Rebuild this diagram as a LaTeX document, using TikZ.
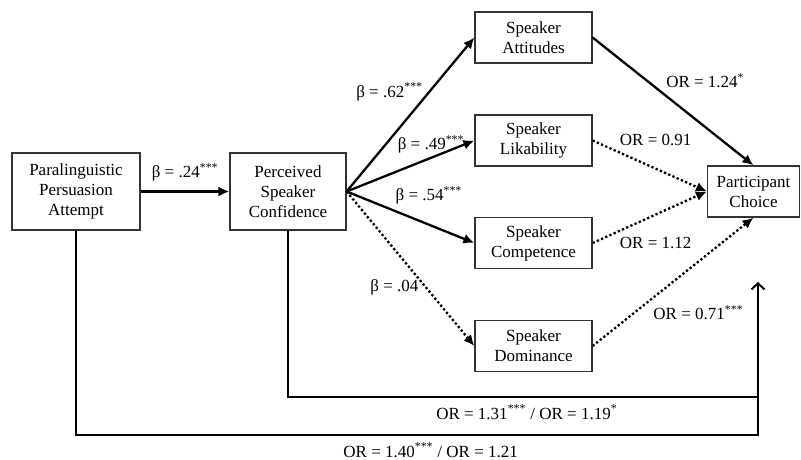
\documentclass[tikz,border=0pt]{standalone}
\usepackage{fontspec}
\setmainfont{Liberation Serif}
\usetikzlibrary{arrows.meta}

\begin{document}
\begin{tikzpicture}[x=1pt,y=-1pt,
	every node/.style={font=\fontsize{17}{20}\selectfont},
	box/.style={draw=black!80,line width=1.2pt,align=center,inner sep=0pt,minimum width=117pt,minimum height=51pt},
	solidarrow/.style={-{Latex[length=11pt,width=10pt]},line width=2.3pt},
	dotarrow/.style={-{Latex[length=11pt,width=10pt]},line width=2.3pt,dash pattern=on 2.3pt off 2.3pt},
	pathline/.style={line width=1.5pt}]
	\useasboundingbox (0,0) rectangle (801,460);

		\node[box,minimum width=128pt,minimum height=77pt] (PARA) at (76,191.5) {Paralinguistic\\Persuasion\\Attempt};
		\node[box,minimum width=116pt,minimum height=77pt] (PERC) at (288,191.5) {Perceived\\Speaker\\Confidence};
		\node[box] (ATT) at (533.5,37.5) {Speaker\\Attitudes};
		\node[box] (LIK) at (533.5,140.5) {Speaker\\Likability};
		\node[box] (COMP) at (533.5,243) {Speaker\\Competence};
		\node[box] (DOM) at (533.5,346) {Speaker\\Dominance};
		\node[box,minimum width=92pt] (CHOICE) at (753.5,191.5) {Participant\\Choice};

		\coordinate (LOW) at (758,435);
		\coordinate (HIGH) at (758,397);
		\coordinate (TIP) at (758,282);

		\draw [solidarrow] (PARA.east) -- node[above=6pt] (B24) {β = .24\textsuperscript{***}} (PERC.west);

		\draw [solidarrow] (PERC.east) -- node[pos=0.646,left=2pt] (B62) {β = .62\textsuperscript{***}} (ATT.west);
		\draw [solidarrow] (PERC.east) -- node[pos=0.66,above=0pt] (B49) {β = .49\textsuperscript{***}} (LIK.west);
		\draw [solidarrow] (PERC.east) -- node[pos=0.643,above=16pt] (B54) {β = .54\textsuperscript{***}} (COMP.west);
		\draw [dotarrow] (PERC.east) -- node[pos=0.62,left=3pt] (B04) {β = .04} (DOM.west);

		\draw [solidarrow] (ATT.east) -- node[pos=0.43,above right=0pt] (OR124) {OR = 1.24\textsuperscript{*}} (CHOICE.north);
		\draw [dotarrow] (LIK.east) -- node[pos=0.2,above right=0pt] (OR091) {OR = 0.91} (CHOICE.west);
		\draw [dotarrow] (COMP.east) -- node[pos=0.2,below right=0pt] (OR112) {OR = 1.12} (CHOICE.west);
		\draw [dotarrow] (DOM.east) -- node[pos=0.35,below right=0pt] (OR071) {OR = 0.71\textsuperscript{***}} (CHOICE.south);

		\draw [pathline] (PARA.south) |- node[pos=0.76,below=4pt] (OR140) {OR = 1.40\textsuperscript{***} / OR = 1.21} (LOW) -- (HIGH);
		\draw [pathline,-{Straight Barb[length=6pt,width=13pt,line width=2pt]}] (PERC.south) |- node[pos=0.754,below=4pt] (OR131) {OR = 1.31\textsuperscript{***} / OR = 1.19\textsuperscript{*}} (HIGH) -- (TIP);

	\end{tikzpicture}
\end{document}
